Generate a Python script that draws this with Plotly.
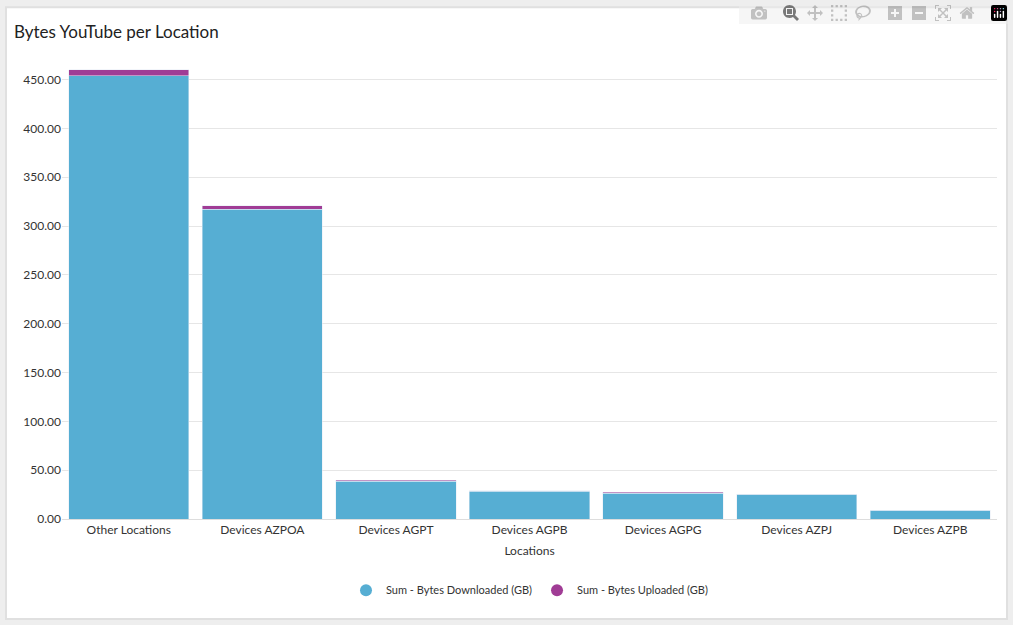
import plotly.graph_objects as go

locations = ["Other Locations", "Devices AZPOA", "Devices AGPT", "Devices AGPB",
             "Devices AGPG", "Devices AZPJ", "Devices AZPB"]
downloaded = [454, 317, 38.5, 28.4, 26.5, 25.4, 9.1]
uploaded = [6.0, 4.0, 1.1, 0.3, 0.9, 0.2, 0.1]

blue = "#56aed3"
purple = "#a03c95"

fig = go.Figure()
fig.add_bar(x=locations, y=downloaded, marker_color=blue, showlegend=False,
            name="Sum - Bytes Downloaded (GB)")
fig.add_bar(x=locations, y=uploaded, marker_color=purple, showlegend=False,
            name="Sum - Bytes Uploaded (GB)")
# legend entries with round markers
fig.add_scatter(x=[None], y=[None], mode="markers", name="Sum - Bytes Downloaded (GB)",
                marker=dict(color=blue, size=12, symbol="circle"))
fig.add_scatter(x=[None], y=[None], mode="markers", name="Sum - Bytes Uploaded (GB)",
                marker=dict(color=purple, size=12, symbol="circle"))

fig.update_layout(
    width=1013, height=625,
    barmode="stack", bargap=0.1,
    font=dict(family="Lato", size=12, color="#333"),
    paper_bgcolor="#eeeeee", plot_bgcolor="white",
    margin=dict(l=62, r=16, t=60, b=106),
    title=dict(text="Bytes YouTube per Location", x=14 / 1013, xanchor="left",
               y=1 - 32 / 625, yanchor="middle", font=dict(size=17, color="#222")),
    legend=dict(orientation="h", x=0.5, xanchor="center", y=-0.155, yanchor="middle",
                font=dict(size=11), traceorder="normal", bgcolor="rgba(0,0,0,0)"),
    shapes=[dict(type="rect", xref="paper", yref="paper", x0=-0.0599, x1=1.0107,
                 y0=-0.218, y1=1.115, fillcolor="white", line=dict(color="#e0e0e0"),
                 layer="below")],
)
fig.update_xaxes(title=dict(text="Locations", font=dict(size=12), standoff=10),
                 tickfont=dict(size=12), showline=True, linecolor="#ddd", ticks="")
fig.update_yaxes(range=[0, 470], dtick=50, tickformat=".2f", gridcolor="#e6e6e6",
                 tickfont=dict(size=12), zeroline=False)

fig.write_html("out.html", post_script="document.body.style.margin='0';")
